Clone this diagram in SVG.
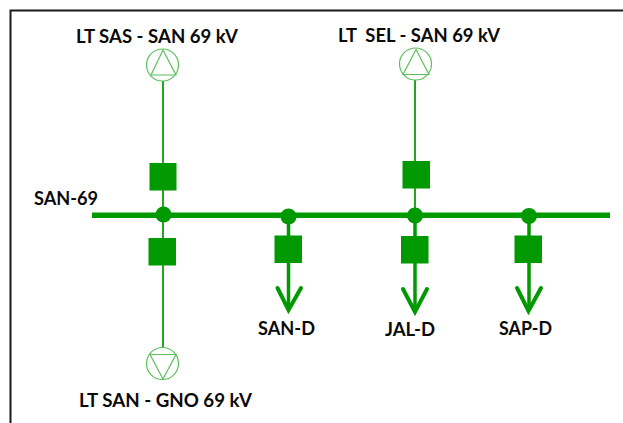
<svg xmlns="http://www.w3.org/2000/svg" width="623" height="423" viewBox="0 0 623 423">
<style>
text{font-family:"Lato","Liberation Sans",sans-serif;font-weight:700;font-size:18px;fill:#0a0a0a}
.thin{stroke:#22a61c;stroke-width:2;fill:none}
.feed{stroke:#009900;stroke-width:3.5;fill:none}
.head{stroke:#009900;stroke-width:4;fill:none;stroke-linecap:round;stroke-linejoin:miter}
.sw{fill:#009900}
.gen{stroke:#5cc05c;stroke-width:1.2;fill:#fff}
</style>
<rect width="623" height="423" fill="#fff"/>
<path id="frame" d="M623 10.500H10.500V423" fill="none" stroke="#1a1a1a" stroke-width="2"/>
<g id="connectors">
<path class="thin" d="M163 81V214"/>
<path class="thin" d="M163 214V348"/>
<path class="thin" d="M415 80V215"/>
<path class="feed" d="M288.500 216V310"/>
<path class="feed" d="M415 215V311"/>
<path class="feed" d="M529 216V310"/>
<path class="head" d="M277.500 288L288.500 310L301 288"/>
<path class="head" d="M403 289L415 312L427 289"/>
<path class="head" d="M517 288L528.500 311L541 288"/>
</g>
<g id="bus-san-69">
<rect x="92" y="212.500" width="518" height="5.500" class="sw"/>
<circle cx="163.500" cy="214.500" r="8" class="sw"/>
<circle cx="288.500" cy="216.500" r="8" class="sw"/>
<circle cx="415" cy="215.500" r="8" class="sw"/>
<circle cx="529" cy="216" r="8" class="sw"/>
<text x="34" y="205" textLength="64" lengthAdjust="spacingAndGlyphs">SAN-69</text>
</g>
<g id="lt-sas-san">
<circle cx="162.500" cy="65" r="16" class="gen"/>
<path class="gen" d="M163 50L176 75H151Z"/>
<rect x="149.500" y="163" width="27" height="27.500" class="sw"/>
<text x="76" y="43" textLength="162" lengthAdjust="spacingAndGlyphs">LT SAS - SAN 69 kV</text>
</g>
<g id="lt-sel-san">
<circle cx="415.500" cy="64" r="16" class="gen"/>
<path class="gen" d="M416 49.500L429 74.500H403Z"/>
<rect x="402.500" y="161" width="27.500" height="27.500" class="sw"/>
<text x="338" y="42" textLength="162" lengthAdjust="spacingAndGlyphs" xml:space="preserve">LT  SEL - SAN 69 kV</text>
</g>
<g id="lt-san-gno">
<circle cx="162.500" cy="363.500" r="16" class="gen"/>
<path class="gen" d="M150 354.500H176L163 379Z"/>
<rect x="148.500" y="238" width="27.500" height="27.500" class="sw"/>
<text x="79" y="407" textLength="173" lengthAdjust="spacingAndGlyphs">LT SAN - GNO 69 kV</text>
</g>
<g id="san-d">
<rect x="274.500" y="235.500" width="27.500" height="27.500" class="sw"/>
<text x="258" y="335" textLength="57" lengthAdjust="spacingAndGlyphs">SAN-D</text>
</g>
<g id="jal-d">
<rect x="401" y="236" width="27.500" height="27.500" class="sw"/>
<text x="385" y="336" textLength="50" lengthAdjust="spacingAndGlyphs">JAL-D</text>
</g>
<g id="sap-d">
<rect x="514.500" y="235.500" width="27.500" height="27.500" class="sw"/>
<text x="499" y="335" textLength="53" lengthAdjust="spacingAndGlyphs">SAP-D</text>
</g>
</svg>
